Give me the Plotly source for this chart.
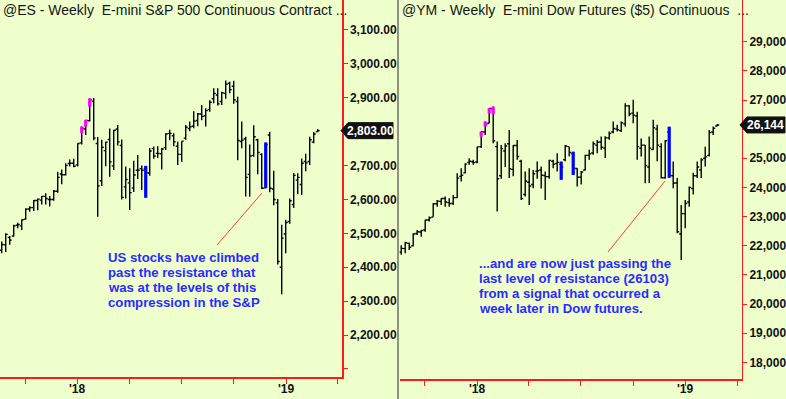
import plotly.graph_objects as go
import pandas as pd

W, H = 786, 399
BG = "#eeffcc"
RED = "#ff1a1a"

# ---------------- data ----------------
first_week = "2017-08-21"
n_weeks = 80
weeks = pd.date_range(first_week, periods=n_weeks, freq="7D")

es_open = [2450, 2466, 2488, 2492, 2524, 2522, 2542, 2572, 2576, 2597, 2598, 2609, 2600, 2600, 2624, 2675, 2673, 2706, 2707, 2702,
           2767, 2808, 2832, 2890, 2765, 2655, 2744, 2777, 2699, 2808, 2759, 2637, 2649, 2634, 2686, 2691, 2691, 2678, 2750, 2736,
           2735, 2753, 2795, 2788, 2757, 2733, 2781, 2809, 2816, 2833, 2852, 2847, 2865, 2897, 2908, 2889, 2913, 2943, 2934, 2889,
           2771, 2779, 2674, 2730, 2776, 2733, 2634, 2790, 2631, 2590, 2400, 2498, 2535, 2585, 2657, 2644, 2712, 2712, 2769, 2800]
es_high = [2476, 2500, 2492, 2525, 2531, 2541, 2574, 2580, 2598, 2603, 2610, 2618, 2610, 2628, 2682, 2688, 2707, 2718, 2720, 2766,
           2815, 2835, 2898, 2899, 2784, 2776, 2770, 2809, 2806, 2820, 2777, 2697, 2692, 2714, 2731, 2700, 2699, 2752, 2756, 2757,
           2752, 2795, 2806, 2795, 2770, 2772, 2820, 2830, 2860, 2855, 2879, 2869, 2893, 2928, 2928, 2918, 2951, 2947, 2950, 2903,
           2830, 2785, 2762, 2819, 2779, 2736, 2768, 2800, 2685, 2601, 2525, 2540, 2603, 2678, 2677, 2721, 2735, 2785, 2799, 2808]
es_low = [2441, 2445, 2466, 2490, 2515, 2510, 2540, 2564, 2566, 2568, 2585, 2585, 2579, 2596, 2620, 2645, 2671, 2697, 2695, 2697,
          2762, 2790, 2830, 2775, 2549, 2640, 2698, 2667, 2687, 2759, 2600, 2603, 2569, 2622, 2660, 2628, 2605, 2670, 2720, 2722,
          2688, 2746, 2775, 2757, 2702, 2711, 2776, 2801, 2810, 2816, 2834, 2815, 2859, 2884, 2877, 2879, 2897, 2913, 2882, 2716,
          2751, 2609, 2608, 2726, 2674, 2631, 2632, 2621, 2583, 2408, 2320, 2441, 2528, 2575, 2616, 2613, 2683, 2702, 2766, 2798]
es_close = [2467, 2497, 2480, 2522, 2526, 2540, 2571, 2576, 2597, 2601, 2609, 2603, 2600, 2624, 2665, 2673, 2700, 2707, 2698, 2765,
            2810, 2833, 2895, 2781, 2640, 2754, 2769, 2711, 2804, 2770, 2606, 2659, 2620, 2672, 2686, 2686, 2679, 2743, 2728, 2736,
            2749, 2793, 2795, 2770, 2733, 2772, 2813, 2814, 2831, 2852, 2845, 2862, 2887, 2913, 2882, 2915, 2940, 2924, 2894, 2774,
            2775, 2665, 2728, 2785, 2739, 2633, 2762, 2633, 2600, 2417, 2486, 2532, 2596, 2671, 2665, 2707, 2708, 2776, 2793, 2803]

ym_open = [21780, 21900, 22080, 22000, 22420, 22470, 22540, 22880, 22980, 23440, 23520, 23620, 23480, 23450, 23650, 24380, 24500, 24860, 24880, 24870,
           25400, 25900, 26200, 26700, 25400, 24400, 25250, 25500, 24620, 25440, 24900, 23760, 24180, 24100, 24560, 24600, 24410, 24370, 24900, 24820,
           24800, 24950, 25400, 25150, 24650, 24350, 24600, 25100, 25180, 25450, 25560, 25350, 25700, 25900, 26000, 25950, 26180, 26800, 26550, 26450,
           25350, 25450, 24700, 25300, 26000, 25400, 24330, 25900, 24400, 24150, 22400, 23100, 23500, 23960, 24400, 24600, 25000, 25100, 25900, 26110]
ym_high = [22020, 22140, 22110, 22430, 22540, 22540, 22890, 23000, 23460, 23570, 23630, 23690, 23630, 23740, 24490, 24660, 24830, 25000, 24950, 25400,
           25920, 26260, 26720, 26780, 25580, 25460, 25520, 25970, 25460, 25630, 24950, 24550, 24660, 24600, 24890, 24720, 24545, 24950, 24950, 25175,
           24890, 25460, 25400, 25220, 24660, 24560, 25120, 25290, 25580, 25630, 25750, 25760, 25920, 26260, 26150, 26260, 26890, 26830, 27010, 26600,
           25680, 25460, 25750, 26320, 26150, 25520, 25630, 26080, 24890, 24320, 23400, 23570, 24030, 24500, 24890, 25000, 25400, 25970, 26090, 26180]
ym_low = [21690, 21740, 21850, 21970, 22370, 22310, 22480, 22830, 22990, 23340, 23400, 23340, 23340, 23400, 23630, 24200, 24490, 24780, 24780, 24830,
          25350, 25800, 26200, 25520, 23170, 24300, 24700, 24320, 24380, 24950, 23570, 23690, 23400, 23970, 24300, 23960, 23570, 24300, 24660, 24545,
          24260, 24900, 25060, 24430, 24030, 24100, 24580, 24950, 25120, 25175, 25290, 25010, 25640, 25860, 25920, 25900, 26090, 26440, 26200, 24950,
          25060, 24144, 24150, 25290, 24900, 24310, 24300, 24330, 23970, 22430, 21510, 22600, 23340, 23760, 24320, 24320, 24720, 25060, 25800, 26100]
ym_close = [21910, 22100, 21950, 22400, 22480, 22520, 22880, 22960, 23440, 23530, 23620, 23500, 23450, 23650, 24320, 24420, 24800, 24900, 24850, 25390,
            25910, 26150, 26710, 25600, 24300, 25330, 25420, 24640, 25440, 25060, 23620, 24220, 24050, 24470, 24570, 24420, 24370, 24930, 24800, 24860,
            24700, 25420, 25200, 24650, 24350, 24530, 25100, 25150, 25500, 25550, 25380, 25700, 25850, 26020, 25980, 26220, 26800, 26520, 26480, 25400,
            25450, 24750, 25350, 26050, 25450, 24330, 25600, 24420, 24150, 22480, 23100, 23450, 24000, 24400, 24700, 24950, 25050, 25880, 26030, 26144]

# painted (signal) bars: week index, low, high
es_magenta_idx = [20, 21, 22]
es_magenta_lo = [2795, 2815, 2874]
es_magenta_hi = [2815, 2835, 2898]
es_blue_idx = [36, 66]
es_blue_lo = [2605, 2634]
es_blue_hi = [2699, 2768]

ym_magenta_idx = [20, 21, 22, 23]
ym_magenta_lo = [25747, 26091, 26549, 26515]
ym_magenta_hi = [25919, 26263, 26720, 26780]
ym_blue_idx = [40, 43, 67]
ym_blue_lo = [24260, 24430, 24330]
ym_blue_hi = [24880, 25220, 26080]

es_last = 2803.00
ym_last = 26144

es_ticks = [2100, 2200, 2300, 2400, 2500, 2600, 2700, 2800, 2900, 3000, 3100]
ym_ticks = [18000, 19000, 20000, 21000, 22000, 23000, 24000, 25000, 26000, 27000, 28000, 29000]
x_tickvals = ["2017-10-01", "2018-01-01", "2018-04-01", "2018-07-01", "2018-10-01", "2019-01-01", "2019-04-01"]
x_ticktext = ["", "'18", "", "", "", "'19", ""]

es_title = "@ES - Weekly\u00a0\u00a0E-mini S&P 500 Continuous Contract ..."
ym_title = "@YM - Weekly\u00a0\u00a0E-mini Dow Futures ($5) Continuous\u00a0\u00a0..."
es_note = ["US stocks have climbed", "past the resistance that", "was at the levels of this", "compression in the S&P"]
ym_note = ["...and are now just passing the", "last level of resistance (26103)",
           "from a signal that occurred a", "week later in Dow futures."]

# ---------------- helpers ----------------
def fx(px):
    return px / W

def fy(py):
    return 1 - py / H

def seg(idx, lo, hi):
    xs, ys = [], []
    for i, a, b in zip(idx, lo, hi):
        xs += [weeks[i], weeks[i], None]
        ys += [a, b, None]
    return xs, ys

fig = go.Figure()

for (o, h, l, c, xa, ya) in [(es_open, es_high, es_low, es_close, "x", "y"),
                             (ym_open, ym_high, ym_low, ym_close, "x2", "y2")]:
    fig.add_trace(go.Ohlc(x=weeks, open=o, high=h, low=l, close=c, xaxis=xa, yaxis=ya,
                          increasing=dict(line=dict(color="#000000", width=1.4)),
                          decreasing=dict(line=dict(color="#000000", width=1.4)),
                          tickwidth=0.5, hoverinfo="skip", showlegend=False))

for idx, lo, hi, col, xa, ya in [
    (es_magenta_idx, es_magenta_lo, es_magenta_hi, "#ff00ff", "x", "y"),
    (es_blue_idx, es_blue_lo, es_blue_hi, "#0000ff", "x", "y"),
    (ym_magenta_idx, ym_magenta_lo, ym_magenta_hi, "#ff00ff", "x2", "y2"),
    (ym_blue_idx, ym_blue_lo, ym_blue_hi, "#0000ff", "x2", "y2"),
]:
    xs, ys = seg(idx, lo, hi)
    fig.add_trace(go.Scatter(x=xs, y=ys, mode="lines", line=dict(color=col, width=3.2),
                             xaxis=xa, yaxis=ya, hoverinfo="skip", showlegend=False))

es_range = [2075.2, 3188.5]
ym_range = [17427, 30431]
xrange = ["2017-08-18", "2019-04-08 12:00"]
tickfont = dict(family="Liberation Sans, Arial, sans-serif", size=12, color="#111111", weight="bold")

xcommon = dict(type="date", range=xrange, showgrid=False, zeroline=False, showline=True, automargin=False,
               linecolor=RED, linewidth=1.5, ticks="outside", ticklen=5, tickcolor=RED, tickwidth=1,
               tickvals=x_tickvals, ticktext=[""] * len(x_tickvals), tickfont=tickfont,
               rangeslider=dict(visible=False), fixedrange=True)
ycommon = dict(side="right", showgrid=False, zeroline=False, showline=True, linecolor=RED, linewidth=1.5,
               automargin=False, ticks="outside", ticklen=4, tickcolor=RED, tickwidth=1,
               tickfont=tickfont, fixedrange=True)

# labels hidden behind the last-price flags, or clipped at the bottom edge
es_text = ["" if v in (2100, 2800) else f"{v:,.2f}" for v in es_ticks]
ym_text = ["" if v == 26000 else f"{v:,}" for v in ym_ticks]

fig.update_layout(
    width=W, height=H, margin=dict(l=0, r=0, t=0, b=0, autoexpand=False),
    paper_bgcolor=BG, plot_bgcolor=BG, showlegend=False,
    xaxis=dict(domain=[0, fx(342)], anchor="y", **xcommon),
    yaxis=dict(domain=[fy(377.3), 1], anchor="x", range=es_range,
               tickvals=es_ticks, ticktext=es_text, **ycommon),
    xaxis2=dict(domain=[fx(399.5), fx(741.5)], anchor="y2", **xcommon),
    yaxis2=dict(domain=[fy(379), 1], anchor="x2", range=ym_range,
                tickvals=ym_ticks, ticktext=ym_text, **ycommon),
)

shapes = []
annotations = []

# x tick labels (year marks) placed just under the axis
for xref_name in ("x", "x2"):
    for tv, tt in zip(x_tickvals, x_ticktext):
        if tt:
            annotations.append(dict(xref=xref_name, yref="paper", x=tv, y=fy(389), text=tt, showarrow=False,
                                    font=tickfont, xanchor="center", yanchor="middle"))

# panel separator
shapes.append(dict(type="line", xref="paper", yref="paper", x0=fx(398), x1=fx(398), y0=0, y1=1,
                   line=dict(color="#6e6e6e", width=1.5)))

# callout lines
shapes.append(dict(type="line", xref="paper", yref="paper", x0=fx(217), y0=fy(245), x1=fx(262), y1=fy(193),
                   line=dict(color="#ff3b3b", width=1)))
shapes.append(dict(type="line", xref="paper", yref="paper", x0=fx(608), y0=fy(252), x1=fx(665), y1=fy(181),
                   line=dict(color="#ff3b3b", width=1)))

# last price flags
def flag(x0, x1, yc, hh):
    pts = [(x0, yc), (x0 + 7, yc - hh), (x1, yc - hh), (x1, yc + hh), (x0 + 7, yc + hh)]
    d = "M " + " L ".join(f"{fx(a):.5f},{fy(b):.5f}" for a, b in pts) + " Z"
    return dict(type="path", xref="paper", yref="paper", path=d, fillcolor="#111111",
                line=dict(color="#111111", width=1))

es_flag_y = (es_range[1] - es_last) / (es_range[1] - es_range[0]) * 377.3
ym_flag_y = (ym_range[1] - ym_last) / (ym_range[1] - ym_range[0]) * 379
shapes.append(flag(341, 393, es_flag_y, 8))
shapes.append(flag(740, 785, ym_flag_y, 8))
flagfont = dict(family="Liberation Sans, Arial, sans-serif", size=12, color="#ffffff", weight="bold")
annotations.append(dict(xref="paper", yref="paper", x=fx(370), y=fy(es_flag_y), text=f"{es_last:,.2f}",
                        showarrow=False, font=flagfont, xanchor="center", yanchor="middle"))
annotations.append(dict(xref="paper", yref="paper", x=fx(765), y=fy(ym_flag_y), text=f"{ym_last:,}",
                        showarrow=False, font=flagfont, xanchor="center", yanchor="middle"))

# titles
titlefont = dict(family="Liberation Sans, Arial, sans-serif", size=14, color="#151515")
annotations.append(dict(xref="paper", yref="paper", x=fx(1), y=fy(10), text=es_title, showarrow=False,
                        font=titlefont, xanchor="left", yanchor="middle"))
annotations.append(dict(xref="paper", yref="paper", x=fx(400), y=fy(10), text=ym_title, showarrow=False,
                        font=titlefont, xanchor="left", yanchor="middle"))

# notes
notefont = dict(family="Liberation Sans, Arial, sans-serif", size=13.2, color="#2b2bff", weight="bold")
for i, line in enumerate(es_note):
    annotations.append(dict(xref="paper", yref="paper", x=fx(106), y=fy(257 + 15 * i), text=line,
                            showarrow=False, font=notefont, xanchor="left", yanchor="middle"))
for i, line in enumerate(ym_note):
    annotations.append(dict(xref="paper", yref="paper", x=fx(477), y=fy(263 + 15 * i), text=line,
                            showarrow=False, font=notefont, xanchor="left", yanchor="middle"))

fig.update_layout(shapes=shapes, annotations=annotations)
fig.write_html("out.html", config={"displayModeBar": False, "staticPlot": True},
               post_script="document.body.style.margin='0';document.body.style.overflow='hidden';"
                           "document.body.style.background='" + BG + "';")
